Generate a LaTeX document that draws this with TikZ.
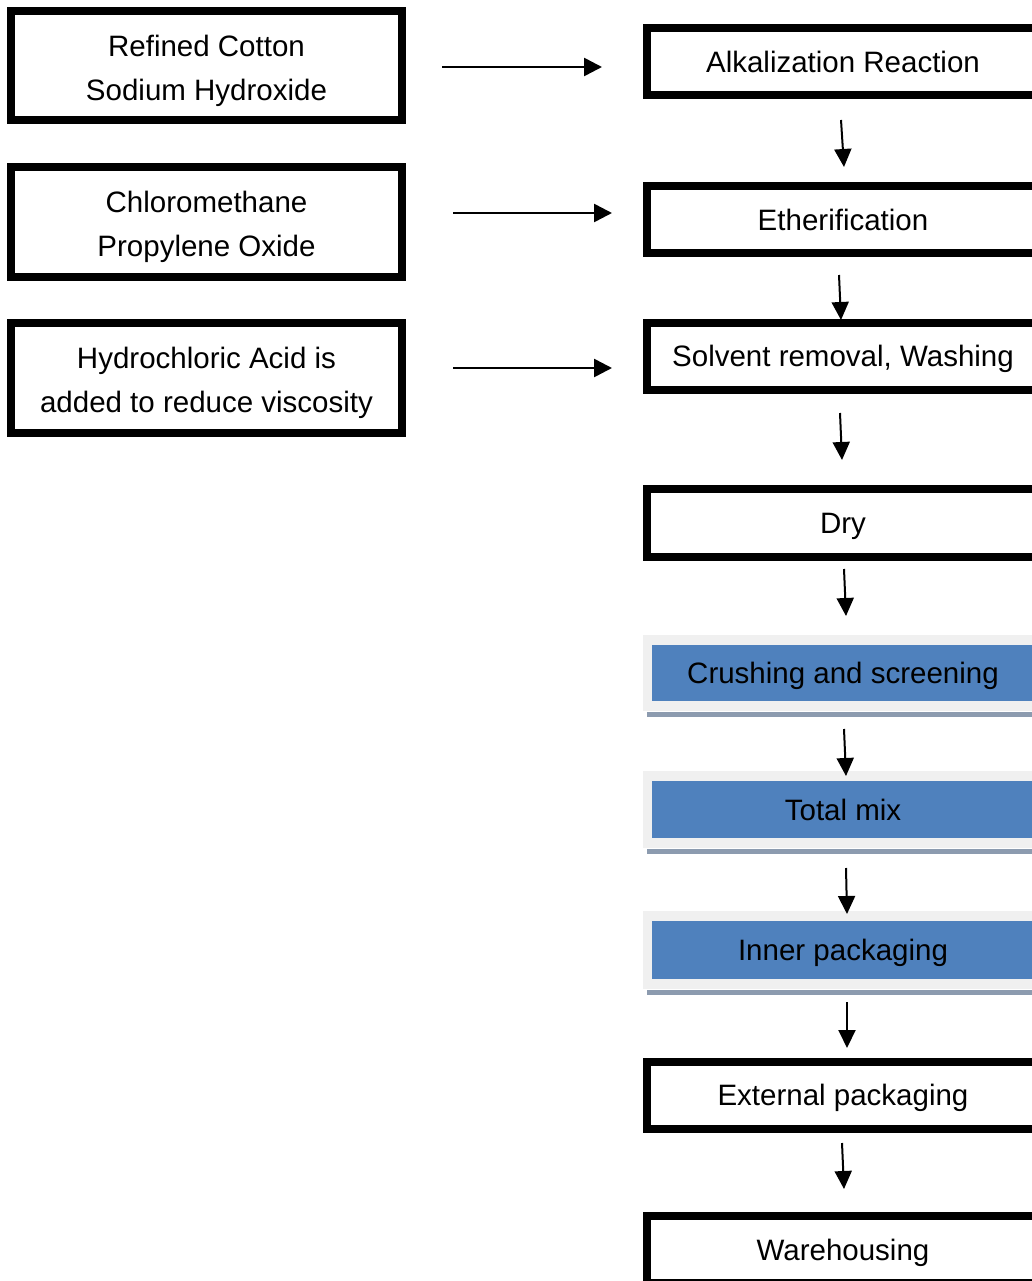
\documentclass[tikz,border=0pt]{standalone}
\usepackage{fontspec}
\setmainfont{Liberation Sans}
\usetikzlibrary{arrows.meta,calc,backgrounds}
\definecolor{blueC}{HTML}{4F81BD}
\definecolor{grayC}{HTML}{F0F0F0}
\definecolor{lineC}{HTML}{8C9BAF}
\begin{document}
\begin{tikzpicture}[x=1pt,y=-1pt,
  every node/.style={font=\fontsize{29.5}{44}\selectfont, inner sep=0pt, outer sep=0pt, text height=27pt, text depth=6pt},
  leftbox/.style={draw, line width=8pt, minimum width=391pt, align=center, text height=75pt},
  stepbox/.style={draw, line width=8pt, minimum width=392pt},
  bluebox/.style={fill=blueC, minimum width=382pt},
  arr/.style={line width=2pt, -{Triangle[length=18pt,width=17pt]}},
  harr/.style={line width=2.6pt, -{Triangle[length=18pt,width=18pt]}}]
\useasboundingbox (0,0) rectangle (1032,1281);
\clip (0,0) rectangle (1032,1281);
% left input boxes
\node[leftbox, minimum height=109.5pt] (l1) at (206.5,65.75) {Refined Cotton\\Sodium Hydroxide};
\node[leftbox, minimum height=110pt] (l2) at (206.5,222) {Chloromethane\\Propylene Oxide};
\node[leftbox, minimum height=110pt] (l3) at (206.5,377.5) {Hydrochloric Acid is\\added to reduce viscosity};
% process steps
\node[stepbox, minimum height=67.5pt] (alk) at (843,61.75) {Alkalization Reaction};
\node[stepbox, minimum height=67pt] (eth) at (843,219.5) {Etherification};
\node[stepbox, minimum height=66.5pt] (solv) at (843,356.25) {Solvent removal, Washing};
\node[stepbox, minimum height=67.5pt] (dry) at (843,522.75) {Dry};
\node[bluebox, minimum height=56pt] (crush) at (843,673) {Crushing and screening};
\node[bluebox, minimum height=57pt] (total) at (843,809.5) {Total mix};
\node[bluebox, minimum height=58pt] (inner) at (843,950) {Inner packaging};
\node[stepbox, minimum height=67pt] (ext) at (843,1095) {External packaging};
\node[stepbox, minimum height=67pt] (ware) at (843,1249.5) {Warehousing};
% panels behind blue steps
\begin{scope}[on background layer]
\foreach \n in {crush,total,inner}{
  \fill[grayC] ($(\n.north west)+(-9,-10)$) rectangle ($(\n.south east)+(20,10)$);
  \fill[lineC] ($(\n.south west)+(-5,11)$) rectangle ($(\n.south east)+(20,15.5)$);
}
\end{scope}
% horizontal arrows
\draw[harr] ($(l1.east)+(40,1.25)$) -- ($(l1.east -| alk.west)+(-45,1.25)$);
\draw[harr] ($(l2.east)+(51,-9)$) -- ($(l2.east -| eth.west)+(-35,-9)$);
\draw[harr] ($(l3.east)+(51,-9.5)$) -- ($(l3.east -| solv.west)+(-35,-9.5)$);
% vertical arrows
\draw[arr] ($(alk.south)+(-2,24.5)$) -- ($(eth.north)+(1,-19)$);
\draw[arr] ($(eth.south)+(-4,22)$) -- ($(solv.north)+(-2,-3)$);
\draw[arr] ($(solv.south)+(-3,23.5)$) -- ($(dry.north)+(-1,-29)$);
\draw[arr] ($(dry.south)+(1,12.5)$) -- ($(crush.north)+(3,-29)$);
\draw[arr] ($(crush.south)+(1,28)$) -- ($(total.north)+(3,-5)$);
\draw[arr] ($(total.south)+(3,30)$) -- ($(inner.north)+(4,-7)$);
\draw[arr] ($(inner.south)+(4,23)$) -- ($(ext.north)+(4,-13.5)$);
\draw[arr] ($(ext.south)+(-1,14.5)$) -- ($(ware.north)+(1,-27)$);
\end{tikzpicture}
\end{document}
